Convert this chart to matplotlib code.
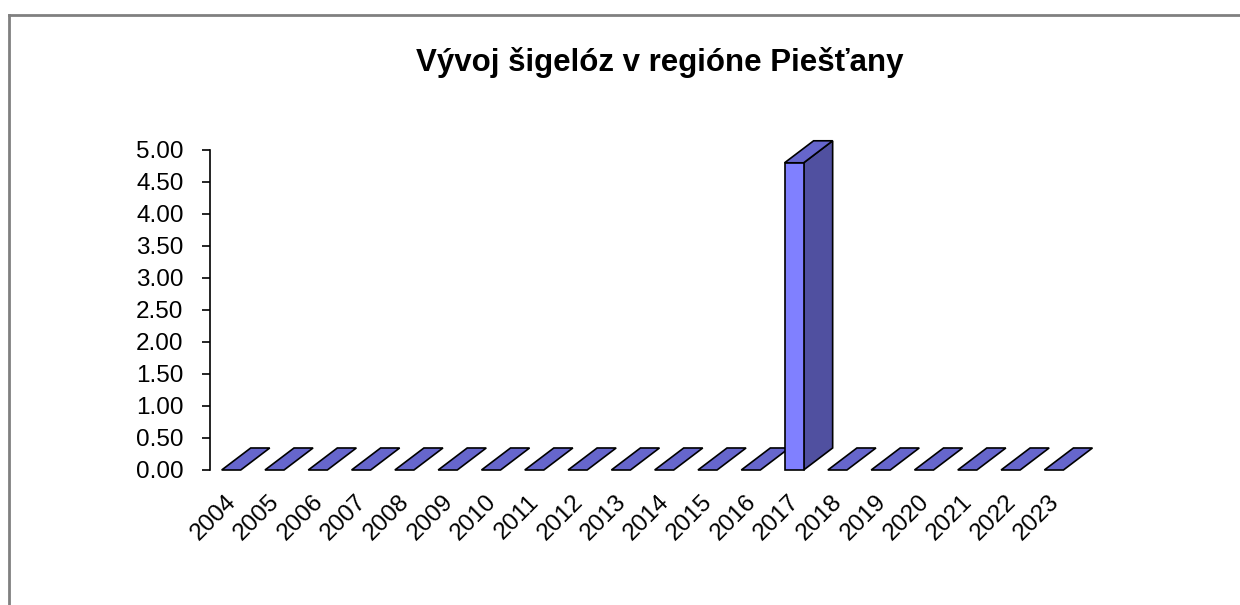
import matplotlib
matplotlib.use("Agg")
import matplotlib.pyplot as plt
from matplotlib.patches import Polygon
from matplotlib.lines import Line2D

years = ["2004", "2005", "2006", "2007", "2008", "2009", "2010", "2011", "2012", "2013",
         "2014", "2015", "2016", "2017", "2018", "2019", "2020", "2021", "2022", "2023"]
values = [0, 0, 0, 0, 0, 0, 0, 0, 0, 0, 0, 0, 0, 4.8, 0, 0, 0, 0, 0, 0]
yticks = [0.0, 0.5, 1.0, 1.5, 2.0, 2.5, 3.0, 3.5, 4.0, 4.5, 5.0]
title = "Vývoj šigelóz v regióne Piešťany"

plt.rcParams['font.family'] = ['Liberation Sans', 'DejaVu Sans']

W, H = 1240, 605
fig = plt.figure(figsize=(W / 100, H / 100), dpi=100)

# chart frame (top and left borders only, cut off at right/bottom)
fig.add_artist(Line2D([9 / W, 9 / W], [0, 1 - 15 / H], color='#808080', lw=2, transform=fig.transFigure))
fig.add_artist(Line2D([9 / W, 1], [1 - 15 / H, 1 - 15 / H], color='#808080', lw=2, transform=fig.transFigure))

ax_l, ax_r, ax_t, ax_b = 210, 1076, 150, 470
ax = fig.add_axes([ax_l / W, 1 - ax_b / H, (ax_r - ax_l) / W, (ax_b - ax_t) / H])
n = len(years)
ax.set_xlim(0, n)
ax.set_ylim(0, 5)

off, bw = 0.27, 0.44
dx, dy = 0.67, 0.344
front_c, top_c, side_c = '#8080FF', '#6666CC', '#5050A0'
ec = 'black'
lw = 1.2

for i, v in enumerate(values):
    x0 = i + off
    x1 = x0 + bw
    if v > 0:
        side = Polygon([(x1, 0), (x1 + dx, dy), (x1 + dx, v + dy), (x1, v)], closed=True,
                       facecolor=side_c, edgecolor=ec, lw=lw, clip_on=False, zorder=3)
        ax.add_patch(side)
    top = Polygon([(x0, v), (x1, v), (x1 + dx, v + dy), (x0 + dx, v + dy)], closed=True,
                  facecolor=top_c, edgecolor=ec, lw=lw, clip_on=False, zorder=3)
    ax.add_patch(top)
    if v > 0:
        front = Polygon([(x0, 0), (x1, 0), (x1, v), (x0, v)], closed=True,
                        facecolor=front_c, edgecolor=ec, lw=lw, clip_on=False, zorder=4)
        ax.add_patch(front)

ax.set_yticks(yticks)
ax.set_yticklabels([f"{t:.2f}" for t in yticks], fontsize=17.5)
ax.set_xticks([])
for i, yr in enumerate(years):
    ax.text(i + 0.35, -0.32, yr, rotation=45, ha='right', va='top', rotation_mode='anchor',
            fontsize=17.5, transform=ax.transData, clip_on=False)

for s in ['top', 'right', 'bottom']:
    ax.spines[s].set_visible(False)
ax.spines['left'].set_linewidth(1.2)
ax.tick_params(axis='y', direction='out', length=6, width=1.2, pad=13)

fig.text(660 / W, 1 - 62 / H, title, ha='center', va='center', fontsize=22.5, fontweight='bold')

fig.savefig("out.png", dpi=100, facecolor='white')
